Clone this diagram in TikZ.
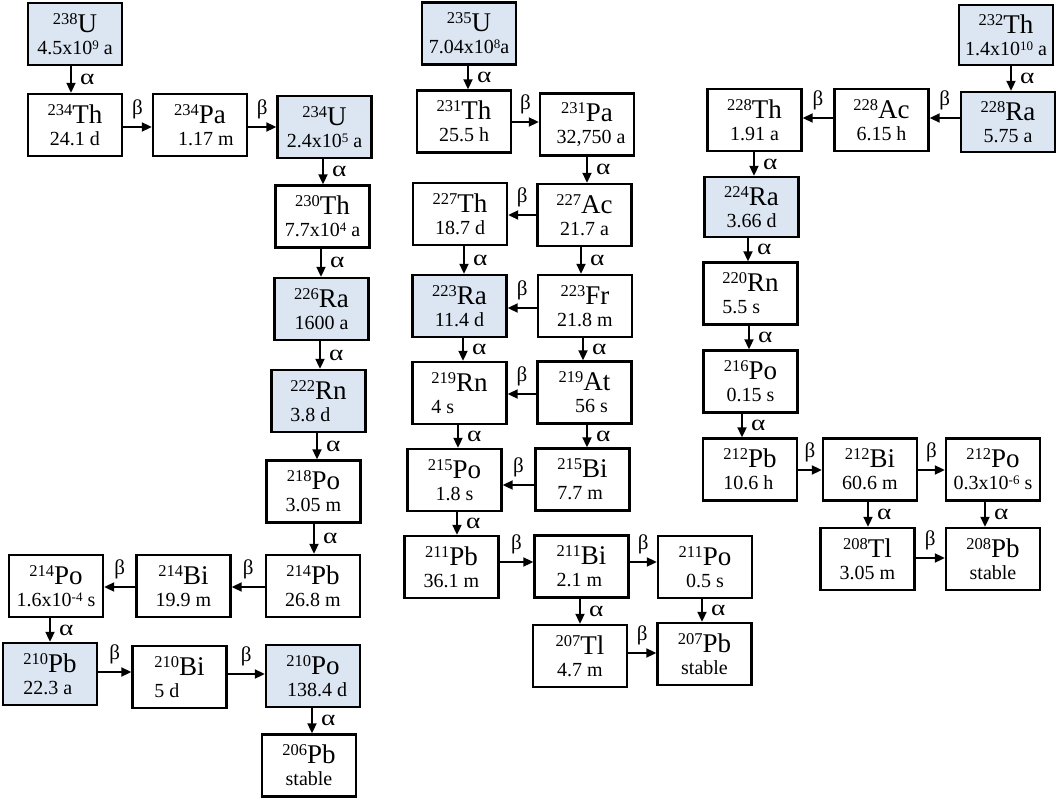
\documentclass[tikz,border=0pt]{standalone}
\usepackage{fontspec}
\setmainfont{Liberation Serif}
\usetikzlibrary{arrows.meta}
\definecolor{hlblue}{RGB}{220,230,242}
\newcommand{\nuc}[2]{{\fontsize{16.5}{16}\selectfont\raisebox{8pt}{#1}}{\fontsize{27}{22}\selectfont #2}}
\newcommand{\pw}[1]{\raisebox{5pt}{\fontsize{13}{13}\selectfont #1}}
\newcommand{\alf}{\scalebox{1.3}[1.05]{α}}
\newcommand{\adn}[3]{\draw[arr] ([xshift=#3pt]#1.south) -- ([xshift=#3pt]#1.south |- #2.north) node[midway,right,lab,xshift=7pt]{\alf};}
\newcommand{\brt}[3]{\draw[arr] ([yshift=#3pt]#1.east) -- ([yshift=#3pt]#1.east -| #2.west) node[midway,above=6pt,lab]{β};}
\newcommand{\blt}[3]{\draw[arr] ([yshift=#3pt]#1.west) -- ([yshift=#3pt]#1.west -| #2.east) node[midway,above=6pt,lab]{β};}
\tikzset{
  nbox/.style={draw, line width=2.4pt, minimum width=94pt, minimum height=62pt, inner sep=0pt, align=center, font=\fontsize{20}{22}\selectfont},
  nboxhl/.style={nbox, fill=hlblue},
  lft/.style={align=left},
  arr/.style={line width=2pt, -{Triangle[length=10pt,width=9pt]}},
  lab/.style={font=\fontsize{21}{21}\selectfont, inner sep=1pt},
}
\begin{document}
\begin{tikzpicture}[x=1pt,y=-1pt]
\useasboundingbox (0,0) rectangle (1058,800);
% U-238 series
\node[nboxhl] (U238) at (75,34) {\nuc{238}{U}\\4.5x10\pw{9} a};
\node[nbox] (Th234) at (75,125) {\nuc{234}{Th}\\24.1 d};
\node[nbox] (Pa234) at (200,125) {\nuc{234}{Pa}\\\hspace*{12pt}1.17 m};
\node[nboxhl] (U234) at (324.5,127) {\nuc{234}{U}\\2.4x10\pw{5} a};
\node[nbox] (Th230) at (322.5,216.5) {\nuc{230}{Th}\\7.7x10\pw{4} a};
\node[nboxhl] (Ra226) at (321.5,309) {\nuc{226}{Ra}\\1600 a};
\node[nboxhl,lft] (Rn222) at (318.5,401) {\nuc{222}{Rn}\\3.8 d};
\node[nbox] (Po218) at (313.5,491.5) {\nuc{218}{Po}\\3.05 m};
\node[nbox] (Pb214) at (313,586) {\nuc{214}{Pb}\\26.8 m};
\node[nbox] (Bi214) at (183.5,586) {\nuc{214}{Bi}\\19.9 m};
\node[nbox] (Po214) at (56,586) {\nuc{214}{Po}\\1.6x10\pw{-4} s};
\node[nboxhl,lft] (Pb210) at (50,674) {\nuc{210}{Pb}\\22.3 a};
\node[nbox,lft] (Bi210) at (179.5,677) {\nuc{210}{Bi}\\5 d};
\node[nboxhl] (Po210) at (313,676) {\nuc{210}{Po}\\\hspace*{8pt}138.4 d};
\node[nbox] (Pb206) at (309,765.5) {\nuc{206}{Pb}\\stable};
\adn{U238}{Th234}{-4}
\brt{Th234}{Pa234}{-2}
\brt{Pa234}{U234}{-2}
\adn{U234}{Th230}{-1.5}
\adn{Th230}{Ra226}{-1.5}
\adn{Ra226}{Rn222}{-1.5}
\adn{Rn222}{Po218}{-1.5}
\adn{Po218}{Pb214}{0.5}
\blt{Pb214}{Bi214}{-1}
\blt{Bi214}{Po214}{-1}
\adn{Po214}{Pb210}{-6}
\brt{Pb210}{Bi210}{2}
\brt{Bi210}{Po210}{3}
\adn{Po210}{Pb206}{-1}
% U-235 series
\node[nboxhl] (U235) at (469,33.5) {\nuc{235}{U}\\7.04x10\pw{8}a};
\node[nbox] (Th231) at (464,121.5) {\nuc{231}{Th}\\25.5 h};
\node[nbox] (Pa231) at (587,124.5) {\nuc{231}{Pa}\\\hspace*{8pt}32,750 a};
\node[nbox] (Th227) at (460,214) {\nuc{227}{Th}\\18.7 d};
\node[nbox] (Ac227) at (584.5,215) {\nuc{227}{Ac}\\21.7 a};
\node[nboxhl] (Ra223) at (459.5,306) {\nuc{223}{Ra}\\11.4 d};
\node[nbox] (Fr223) at (585,306) {\nuc{223}{Fr}\\21.8 m};
\node[nbox,lft] (Rn219) at (459.5,393) {\nuc{219}{Rn}\\4 s};
\node[nbox] (At219) at (584.5,392.5) {\nuc{219}{At}\\\hspace*{14pt}56 s};
\node[nbox] (Po215) at (454.5,480) {\nuc{215}{Po}\\1.8 s};
\node[nbox,lft] (Bi215) at (582.5,479.5) {\nuc{215}{Bi}\\7.7 m};
\node[nbox] (Pb211) at (451.5,567) {\nuc{211}{Pb}\\36.1 m};
\node[nbox,lft] (Bi211) at (581.5,566.5) {\nuc{211}{Bi}\\2.1 m};
\node[nbox] (Po211) at (705,567) {\nuc{211}{Po}\\0.5 s};
\node[nbox] (Tl207) at (580,656) {\nuc{207}{Tl}\\4.7 m};
\node[nbox] (Pb207) at (704.5,654) {\nuc{207}{Pb}\\stable};
\adn{U235}{Th231}{-1}
\brt{Th231}{Pa231}{-0.5}
\adn{Pa231}{Ac227}{0}
\blt{Ac227}{Th227}{0}
\adn{Th227}{Ra223}{4}
\adn{Ac227}{Fr223}{-3.5}
\blt{Fr223}{Ra223}{-2}
\adn{Ra223}{Rn219}{3.5}
\adn{Fr223}{At219}{-2}
\blt{At219}{Rn219}{-1.5}
\adn{Rn219}{Po215}{-1.5}
\adn{At219}{Bi215}{2.5}
\blt{Bi215}{Po215}{-5.5}
\adn{Po215}{Pb211}{2.5}
\brt{Pb211}{Bi211}{5}
\brt{Bi211}{Po211}{4.5}
\adn{Bi211}{Tl207}{-1.5}
\adn{Po211}{Pb207}{-3}
\brt{Tl207}{Pb207}{3}
% Th-232 series
\node[nboxhl,minimum height=60pt] (Th232) at (1006,35) {\nuc{232}{Th}\\1.4x10\pw{10} a};
\node[nboxhl,minimum height=60pt] (Ra228) at (1008,122) {\nuc{228}{Ra}\\5.75 a};
\node[nbox] (Ac228) at (881.5,120) {\nuc{228}{Ac}\\6.15 h};
\node[nbox] (Th228) at (754.5,120) {\nuc{228}{Th}\\1.91 a};
\node[nboxhl,minimum height=60pt] (Ra224) at (751.5,207) {\nuc{224}{Ra}\\3.66 d};
\node[nbox,lft] (Rn220) at (750.5,293.5) {\nuc{220}{Rn}\\5.5 s};
\node[nbox] (Po216) at (750.5,381.5) {\nuc{216}{Po}\\0.15 s};
\node[nbox,lft] (Pb212) at (750,469.5) {\nuc{212}{Pb}\\10.6 h};
\node[nbox] (Bi212) at (870,469.5) {\nuc{212}{Bi}\\60.6 m};
\node[nbox] (Po212) at (993,469.5) {\nuc{212}{Po}\\0.3x10\pw{-6} s};
\node[nbox] (Tl208) at (867.5,559) {\nuc{208}{Tl}\\3.05 m};
\node[nbox] (Pb208) at (993,559) {\nuc{208}{Pb}\\stable};
\adn{Th232}{Ra228}{5}
\blt{Ra228}{Ac228}{4}
\blt{Ac228}{Th228}{2}
\adn{Th228}{Ra224}{-0.5}
\adn{Ra224}{Rn220}{-3.5}
\adn{Rn220}{Po216}{-1.5}
\adn{Po216}{Pb212}{-8.5}
\brt{Pb212}{Bi212}{-0.5}
\brt{Bi212}{Po212}{-0.5}
\adn{Bi212}{Tl208}{-2}
\adn{Po212}{Pb208}{-8}
\brt{Tl208}{Pb208}{1}
\end{tikzpicture}
\end{document}
